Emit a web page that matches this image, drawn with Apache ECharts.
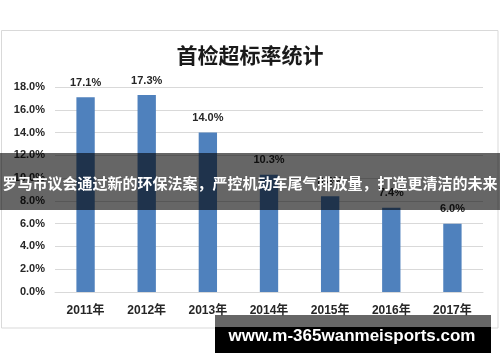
<!DOCTYPE html>
<html>
<head>
<meta charset="utf-8">
<script src="https://cdn.jsdelivr.net/npm/echarts@6/dist/echarts.min.js"></script>
<style>html,body{margin:0;padding:0;background:#fff;}#c{width:500px;height:362px;}</style>
</head>
<body>
<div id="c"></div>
<script>
var titleText = '首检超标率统计';
var categories = ['2011年', '2012年', '2013年', '2014年', '2015年', '2016年', '2017年'];
var values = [17.1, 17.3, 14.0, 10.3, 8.4, 7.4, 6.0];
var yTicks = [0, 2, 4, 6, 8, 10, 12, 14, 16, 18];
var bannerText = '罗马市议会通过新的环保法案，严控机动车尾气排放量，打造更清洁的未来';
var watermarkText = 'www.m-365wanmeisports.com';

var chart = echarts.init(document.getElementById('c'), null, {renderer: 'canvas'});
chart.setOption({
  animation: false,
  backgroundColor: '#fff',
  title: {
    text: titleText, left: 'center', top: 40,
    textStyle: {fontFamily: 'Noto Sans CJK SC', fontSize: 21, fontWeight: 'bold', color: '#1a1a1a'}
  },
  grid: {left: 55, right: 17, top: 87, bottom: 70, containLabel: false},
  xAxis: {
    type: 'category', data: categories,
    axisLine: {lineStyle: {color: '#d9d9d9'}},
    axisTick: {show: false},
    axisLabel: {margin: 13, fontFamily: 'Liberation Sans, Noto Sans CJK SC', fontSize: 12, fontWeight: 'bold', color: '#262626'}
  },
  yAxis: {
    type: 'value', min: yTicks[0], max: yTicks[yTicks.length - 1], interval: 2,
    axisLine: {show: false}, axisTick: {show: false},
    splitLine: {lineStyle: {color: '#d9d9d9', width: 1}},
    axisLabel: {margin: 10, formatter: function (v) { return v.toFixed(1) + '%'; },
      fontFamily: 'Liberation Sans', fontSize: 11, fontWeight: 'bold', color: '#262626'}
  },
  series: [{
    type: 'bar', data: values, barWidth: '30%',
    itemStyle: {color: '#4f81bd'},
    label: {show: true, position: 'top', distance: 9,
      formatter: function (p) { return p.value.toFixed(1) + '%'; },
      fontFamily: 'Liberation Sans', fontSize: 11, fontWeight: 'bold', color: '#262626'}
  }],
  graphic: [
    {type: 'rect', shape: {x: 1.5, y: 30.5, width: 496.5, height: 297.5}, style: {fill: 'none', stroke: '#d9d9d9', lineWidth: 1}, z: 5},
    {type: 'rect', shape: {x: 0, y: 153, width: 500, height: 57}, style: {fill: 'rgba(0,0,0,0.6)'}, z: 10},
    {type: 'text', x: 250, y: 183, style: {text: bannerText, fill: '#fff', font: 'bold 15px "Noto Sans CJK SC"', textAlign: 'center', textVerticalAlign: 'middle'}, z: 11},
    {type: 'rect', shape: {x: 215, y: 315, width: 276, height: 12}, style: {fill: 'rgba(0,0,0,0.6)'}, z: 10},
    {type: 'rect', shape: {x: 215, y: 327, width: 276, height: 26}, style: {fill: '#000'}, z: 10},
    {type: 'text', x: 352, y: 336, style: {text: watermarkText, fill: '#fff', font: 'bold 17px "Liberation Sans"', textAlign: 'center', textVerticalAlign: 'middle'}, z: 11}
  ]
});
</script>
</body>
</html>
